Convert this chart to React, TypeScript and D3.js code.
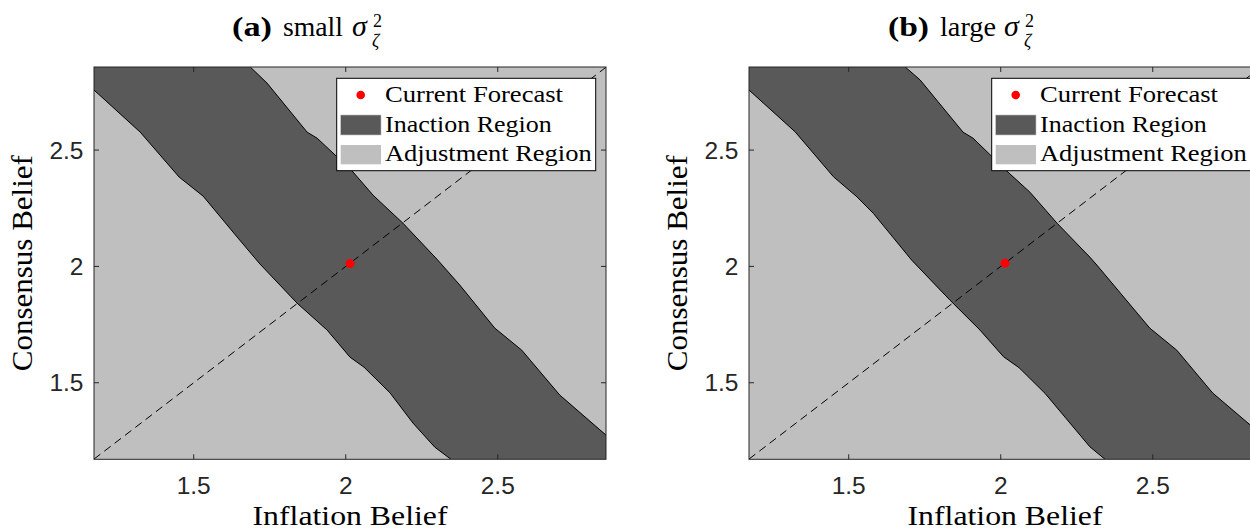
import React from 'react';
import * as d3 from 'd3';

// Axis ranges (both beliefs) and tick marks
const X_DOMAIN: [number, number] = [1.172, 2.856];
const Y_DOMAIN: [number, number] = [1.171, 2.857];
const TICKS = [1.5, 2, 2.5];
const TICK_LABELS = ['1.5', '2', '2.5'];

// Inaction-region boundaries, [inflation belief, consensus belief]
const upperA: [number, number][] = [
  [1.686, 2.857], [1.741, 2.788], [1.873, 2.577], [1.906, 2.551], [2.021, 2.41],
  [2.09, 2.306], [2.188, 2.186], [2.3, 2.031], [2.375, 1.92], [2.49, 1.735],
  [2.579, 1.64], [2.704, 1.447], [2.856, 1.275],
];
const lowerA: [number, number][] = [
  [1.172, 2.758], [1.324, 2.577], [1.452, 2.384], [1.531, 2.302], [1.643, 2.126],
  [1.718, 2.01], [1.84, 1.842], [1.939, 1.726], [2.014, 1.61], [2.06, 1.567],
  [2.146, 1.456], [2.221, 1.327], [2.293, 1.223], [2.346, 1.171],
];
const upperB: [number, number][] = [
  [1.686, 2.857], [1.735, 2.801], [1.876, 2.577], [1.909, 2.551], [2.024, 2.405],
  [2.096, 2.319], [2.185, 2.186], [2.293, 2.04], [2.316, 2.006], [2.49, 1.735],
  [2.579, 1.64], [2.697, 1.456], [2.856, 1.279],
];
const lowerB: [number, number][] = [
  [1.172, 2.758], [1.324, 2.578], [1.45, 2.385], [1.527, 2.299], [1.581, 2.228],
  [1.707, 2.027], [1.833, 1.855], [1.932, 1.726], [2.009, 1.612], [2.06, 1.565],
  [2.146, 1.454], [2.293, 1.225], [2.343, 1.171],
];

// Current forecast (inflation belief, consensus belief)
const forecastA: [number, number] = [2.014, 2.012];
const forecastB: [number, number] = [2.014, 2.014];

const LEGEND_LABELS = ['Current Forecast', 'Inaction Region', 'Adjustment Region'];

const DARK = '#595959';
const LIGHT = '#bfbfbf';
const AXIS = '#262626';
const SERIF = '"Liberation Serif", "Times New Roman", serif';
const SANS = '"Liberation Sans", Arial, Helvetica, sans-serif';

const W = 1250;
const H = 531;
const PLOT_W = 512;
const PLOT_TOP = 67;
const PLOT_BOTTOM = 459.3;

type PanelProps = {
  id: string;
  left: number;
  upper: [number, number][];
  lower: [number, number][];
  forecast: [number, number];
  tag: string;
  word: string;
  tagX: number;
  tagLen: number;
  wordX: number;
  wordLen: number;
  sigmaX: number;
};

function Panel(p: PanelProps) {
  const x = d3.scaleLinear().domain(X_DOMAIN).range([p.left, p.left + PLOT_W]);
  const y = d3.scaleLinear().domain(Y_DOMAIN).range([PLOT_BOTTOM, PLOT_TOP]);
  const line = d3.line<[number, number]>().x((d) => x(d[0])).y((d) => y(d[1]));

  const [x0, x1] = X_DOMAIN;
  const [y0, y1] = Y_DOMAIN;
  const band: [number, number][] = [
    [x0, y1],
    ...p.upper,
    [x1, y0],
    ...p.lower.slice().reverse(),
  ];
  const diag: [number, number][] = [
    [x0, x0],
    [x1, x1],
  ];

  const clipId = `clip-${p.id}`;
  const cx = (x0 + x1) / 2;
  const cy = (y0 + y1) / 2;

  // legend placement inside the upper-right corner of the axes
  const lgLeft = x(x1) - 269.3;
  const lgTop = 78.3;
  const lgW = 259;
  const lgH = 92.4;
  const rowBase = [101.5, 131.5, 160.5];
  const legendLens = [178, 166.7, 206.7];

  return (
    <g>
      <defs>
        <clipPath id={clipId}>
          <rect x={x(x0)} y={y(y1)} width={x(x1) - x(x0)} height={y(y0) - y(y1)} />
        </clipPath>
      </defs>

      <g clipPath={`url(#${clipId})`}>
        <rect x={x(x0)} y={y(y1)} width={x(x1) - x(x0)} height={y(y0) - y(y1)} fill={LIGHT} />
        <path d={line(band) + 'Z'} fill={DARK} />
        <path d={line(p.upper) ?? ''} fill="none" stroke="#000" strokeWidth={1} />
        <path d={line(p.lower) ?? ''} fill="none" stroke="#000" strokeWidth={1} />
        <path d={line(diag) ?? ''} fill="none" stroke="#000" strokeWidth={1} strokeDasharray="8,5" />
        <circle cx={x(p.forecast[0])} cy={y(p.forecast[1])} r={4.5} fill="#ff0000" />
      </g>

      {/* axes box and inward ticks */}
      <rect
        x={x(x0)}
        y={y(y1)}
        width={x(x1) - x(x0)}
        height={y(y0) - y(y1)}
        fill="none"
        stroke={AXIS}
        strokeWidth={1}
      />
      {TICKS.map((t) => (
        <g key={`xt${t}`} stroke={AXIS} strokeWidth={1}>
          <line x1={x(t)} x2={x(t)} y1={y(y0)} y2={y(y0) - 5} />
          <line x1={x(t)} x2={x(t)} y1={y(y1)} y2={y(y1) + 5} />
        </g>
      ))}
      {TICKS.map((t) => (
        <g key={`yt${t}`} stroke={AXIS} strokeWidth={1}>
          <line x1={x(x0)} x2={x(x0) + 5} y1={y(t)} y2={y(t)} />
          <line x1={x(x1)} x2={x(x1) - 5} y1={y(t)} y2={y(t)} />
        </g>
      ))}
      {TICKS.map((t, i) => (
        <text
          key={`xl${t}`}
          x={x(t)}
          y={494}
          textAnchor="middle"
          fontFamily={SANS}
          fontSize={24.5}
          fill={AXIS}
        >
          {TICK_LABELS[i]}
        </text>
      ))}
      {TICKS.map((t, i) => (
        <text
          key={`yl${t}`}
          x={x(x0) - 10.5}
          y={y(t) + 8.5}
          textAnchor="end"
          fontFamily={SANS}
          fontSize={24.5}
          fill={AXIS}
        >
          {TICK_LABELS[i]}
        </text>
      ))}

      {/* axis titles */}
      <text
        x={x(cx)}
        y={525}
        textAnchor="middle"
        fontFamily={SERIF}
        fontSize={28}
        textLength={195}
        lengthAdjust="spacingAndGlyphs"
        fill="#000"
      >
        Inflation Belief
      </text>
      <text
        transform={`translate(${x(x0) - 62},${y(cy)}) rotate(-90)`}
        textAnchor="middle"
        fontFamily={SERIF}
        fontSize={29}
        textLength={216}
        lengthAdjust="spacingAndGlyphs"
        fill="#000"
      >
        Consensus Belief
      </text>

      {/* panel title */}
      <g fontFamily={SERIF} fill="#000">
        <text x={p.tagX} y={36} fontSize={28} fontWeight="bold" textLength={p.tagLen} lengthAdjust="spacingAndGlyphs">
          {p.tag}
        </text>
        <text x={p.wordX} y={36} fontSize={28} textLength={p.wordLen} lengthAdjust="spacingAndGlyphs">
          {p.word}
        </text>
        <text x={p.sigmaX} y={36} fontSize={30} fontStyle="italic">
          σ
        </text>
        <text x={p.sigmaX + 21} y={27} fontSize={18}>
          2
        </text>
        <text x={p.sigmaX + 20} y={47} fontSize={18} fontStyle="italic">
          ζ
        </text>
      </g>

      {/* legend */}
      <g>
        <rect x={lgLeft} y={lgTop} width={lgW} height={lgH} fill="#fff" stroke="#000" strokeWidth={1} />
        <circle cx={lgLeft + 24} cy={95} r={4.3} fill="#ff0000" />
        <rect x={lgLeft + 4} y={115} width={40.3} height={20} fill={DARK} stroke={LIGHT} strokeWidth={0.6} />
        <rect x={lgLeft + 4} y={145} width={40.3} height={19.3} fill={LIGHT} />
        {LEGEND_LABELS.map((s, i) => (
          <text
            key={s}
            x={lgLeft + 48.3}
            y={rowBase[i]}
            fontFamily={SERIF}
            fontSize={24}
            textLength={legendLens[i]}
            lengthAdjust="spacingAndGlyphs"
            fill="#000"
          >
            {s}
          </text>
        ))}
      </g>
    </g>
  );
}

export default function App() {
  return (
    <svg
      width={W}
      height={H}
      viewBox={`0 0 ${W} ${H}`}
      style={{ position: 'absolute', left: 0, top: 0, background: '#fff' }}
    >
      <rect width={W} height={H} fill="#fff" />
      <Panel
        id="a"
        left={94}
        upper={upperA}
        lower={lowerA}
        forecast={forecastA}
        tag="(a)"
        word="small"
        tagX={232}
        tagLen={40}
        wordX={283}
        wordLen={60}
        sigmaX={352}
      />
      <Panel
        id="b"
        left={749}
        upper={upperB}
        lower={lowerB}
        forecast={forecastB}
        tag="(b)"
        word="large"
        tagX={888}
        tagLen={41}
        wordX={940}
        wordLen={56}
        sigmaX={1004}
      />
    </svg>
  );
}
